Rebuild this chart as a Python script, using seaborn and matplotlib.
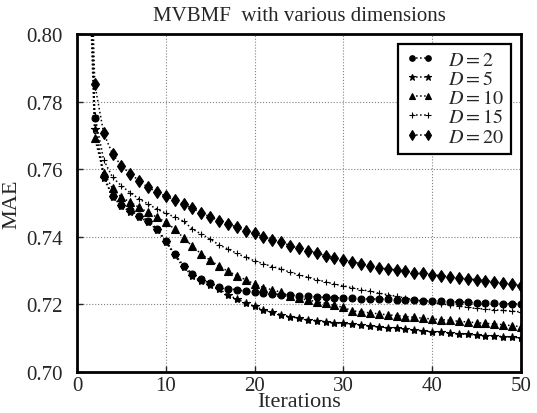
import numpy as np
import pandas as pd
import matplotlib
matplotlib.use("Agg")
import matplotlib.pyplot as plt
import seaborn as sns

iterations = list(range(1, 51))

mae_d2 = [0.8600, 0.7751, 0.7580, 0.7522, 0.7495, 0.7478, 0.7462, 0.7448, 0.7424, 0.7389,
          0.7349, 0.7315, 0.7290, 0.7275, 0.7262, 0.7252, 0.7247, 0.7243, 0.7239, 0.7236,
          0.7233, 0.7231, 0.7229, 0.7228, 0.7226, 0.7224, 0.7222, 0.7221, 0.7220, 0.7219,
          0.7218, 0.7217, 0.7216, 0.7216, 0.7215, 0.7214, 0.7213, 0.7212, 0.7211, 0.7210,
          0.7209, 0.7208, 0.7207, 0.7206, 0.7205, 0.7204, 0.7203, 0.7202, 0.7202, 0.7201]
mae_d5 = [0.8600, 0.7720, 0.7575, 0.7518, 0.7491, 0.7474, 0.7458, 0.7444, 0.7420, 0.7385,
          0.7345, 0.7310, 0.7285, 0.7268, 0.7256, 0.7246, 0.7228, 0.7216, 0.7204, 0.7194,
          0.7184, 0.7177, 0.7170, 0.7164, 0.7159, 0.7155, 0.7152, 0.7149, 0.7145, 0.7144,
          0.7141, 0.7139, 0.7136, 0.7134, 0.7131, 0.7129, 0.7127, 0.7124, 0.7122, 0.7119,
          0.7117, 0.7115, 0.7113, 0.7111, 0.7109, 0.7108, 0.7106, 0.7105, 0.7103, 0.7101]
mae_d10 = [0.8500, 0.7691, 0.7590, 0.7543, 0.7517, 0.7502, 0.7487, 0.7472, 0.7458, 0.7443,
           0.7423, 0.7397, 0.7372, 0.7349, 0.7331, 0.7313, 0.7298, 0.7285, 0.7273, 0.7260,
           0.7250, 0.7243, 0.7236, 0.7224, 0.7218, 0.7213, 0.7208, 0.7203, 0.7197, 0.7191,
           0.7181, 0.7178, 0.7175, 0.7172, 0.7169, 0.7167, 0.7164, 0.7162, 0.7159, 0.7157,
           0.7155, 0.7153, 0.7150, 0.7148, 0.7146, 0.7144, 0.7142, 0.7140, 0.7137, 0.7134]
mae_d15 = [0.8700, 0.7760, 0.7628, 0.7576, 0.7551, 0.7530, 0.7512, 0.7497, 0.7482, 0.7470,
           0.7458, 0.7446, 0.7423, 0.7408, 0.7393, 0.7376, 0.7364, 0.7351, 0.7339, 0.7329,
           0.7320, 0.7312, 0.7305, 0.7295, 0.7288, 0.7280, 0.7273, 0.7267, 0.7260, 0.7255,
           0.7249, 0.7244, 0.7239, 0.7233, 0.7229, 0.7224, 0.7218, 0.7214, 0.7211, 0.7206,
           0.7202, 0.7198, 0.7195, 0.7191, 0.7188, 0.7186, 0.7184, 0.7182, 0.7180, 0.7178]
mae_d20 = [0.8800, 0.7852, 0.7707, 0.7645, 0.7610, 0.7586, 0.7566, 0.7546, 0.7533, 0.7520,
           0.7509, 0.7497, 0.7484, 0.7471, 0.7459, 0.7448, 0.7439, 0.7428, 0.7417, 0.7410,
           0.7400, 0.7391, 0.7384, 0.7374, 0.7366, 0.7359, 0.7352, 0.7344, 0.7338, 0.7332,
           0.7326, 0.7320, 0.7314, 0.7309, 0.7305, 0.7302, 0.7298, 0.7294, 0.7292, 0.7288,
           0.7285, 0.7282, 0.7279, 0.7276, 0.7273, 0.7270, 0.7267, 0.7263, 0.7259, 0.7255]

series_labels = ["$D = 2$", "$D = 5$", "$D = 10$", "$D = 15$", "$D = 20$"]
series_values = [mae_d2, mae_d5, mae_d10, mae_d15, mae_d20]
markers = ["o", "*", "^", "+", "d"]
marker_sizes = [5, 6, 6, 5, 6]

sns.set_style("ticks")
plt.rcParams["font.family"] = ["Liberation Serif", "DejaVu Serif"]
plt.rcParams["mathtext.fontset"] = "stix"

fig = plt.figure(figsize=(5.37, 4.14), dpi=100)
ax = fig.add_axes([0.1434, 0.099, 0.8266, 0.8165])

for label, values, marker, ms in zip(series_labels, series_values, markers, marker_sizes):
    df = pd.DataFrame({"Iterations": iterations, "MAE": values})
    sns.lineplot(data=df, x="Iterations", y="MAE", ax=ax, color="black", linestyle=":",
                 linewidth=1.1, marker=marker, markersize=ms, markeredgecolor="black",
                 markeredgewidth=0.8, label=label)

ax.set_xlim(0, 50)
ax.set_ylim(0.70, 0.80)
ax.set_xticks([0, 10, 20, 30, 40, 50])
ax.set_yticks([0.70, 0.72, 0.74, 0.76, 0.78, 0.80])
ax.set_yticklabels(["0.70", "0.72", "0.74", "0.76", "0.78", "0.80"])
ax.grid(True, linestyle=":", color="gray", linewidth=0.8)
ax.tick_params(direction="in", labelsize=15, length=4, width=1, top=False, right=False)
ax.tick_params(axis="y", pad=10)
ax.tick_params(axis="x", pad=3)
for s in ax.spines.values():
    s.set_linewidth(2)
    s.set_color("black")

ax.set_xlabel("Iterations", fontsize=16, labelpad=-2)
ax.set_ylabel("MAE", fontsize=16, labelpad=4)
ax.set_title("MVBMF  with various dimensions", fontsize=15, pad=10)

leg = ax.legend(loc="upper right", fontsize=14.5, frameon=True, fancybox=False,
                edgecolor="black", framealpha=1, numpoints=2, handlelength=1.4,
                markerscale=0.8, handletextpad=0.7, labelspacing=0.0, borderpad=0.35,
                borderaxespad=0.5)
leg.get_frame().set_linewidth(1.6)

fig.savefig("out.png", dpi=100)
